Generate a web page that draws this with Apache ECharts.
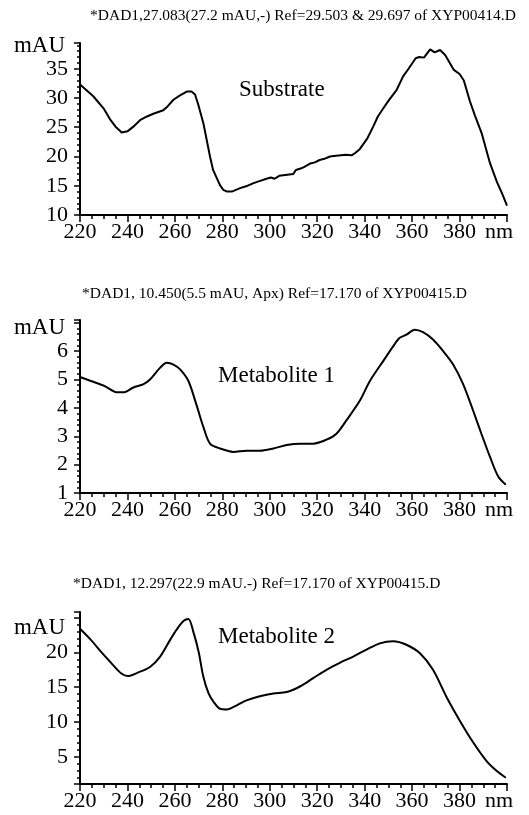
<!DOCTYPE html>
<html>
<head>
<meta charset="utf-8">
<style>
  html, body { margin: 0; padding: 0; background: #fff; }
  #main { width: 529px; height: 815px; }
</style>
<script src="https://cdn.jsdelivr.net/npm/echarts@6/dist/echarts.min.js"></script>
</head>
<body>
<div id="main"></div>
<script>
// spectra (nm / mAU)
var substrateNm = [220, 225.6, 230, 232.6, 235, 237.6, 240, 242.5, 245.3, 248, 250.9, 253, 255.1, 257, 259.4, 262, 265, 267, 268.5, 269.9, 272, 274.8, 276.1, 279, 280.4, 282, 284, 287.5, 290, 292.9, 295, 298.6, 300.5, 302, 304, 305.7, 309.9, 311, 312.7, 314, 317, 319, 321, 323, 325.4, 327, 332, 334.5, 336, 338, 341, 343.6, 345.5, 347.8, 350, 353.5, 356.2, 358.5, 361.5, 363, 365, 367.6, 369.5, 371.8, 374, 377.6, 380, 381.8, 384.4, 386.5, 389.3, 392.8, 395.7, 398, 400];
var substrateAbs = [32.3, 30.3, 28.2, 26.4, 25.1, 24.1, 24.3, 25.1, 26.2, 26.8, 27.3, 27.6, 27.9, 28.6, 29.7, 30.4, 31.1, 31.1, 30.6, 28.8, 25.7, 20.0, 17.7, 15.1, 14.3, 14.0, 14.0, 14.6, 14.9, 15.4, 15.7, 16.2, 16.4, 16.2, 16.7, 16.8, 17.0, 17.7, 17.9, 18.1, 18.8, 19.0, 19.4, 19.6, 20.0, 20.1, 20.3, 20.2, 20.6, 21.3, 23.0, 25.1, 26.8, 28.2, 29.5, 31.4, 33.7, 35.0, 36.8, 37.0, 36.9, 38.3, 37.8, 38.2, 37.3, 34.8, 34.1, 33.0, 29.4, 27.0, 24.0, 18.9, 15.7, 13.6, 11.6];

var metabolite1Nm = [220, 224.6, 230.2, 235.8, 238.3, 242.5, 246.8, 249.5, 253.8, 256.6, 259.4, 262.2, 265.7, 269.2, 272, 274.8, 279, 284.6, 290.2, 295.8, 301.5, 307.1, 312.7, 318.3, 323.9, 328.1, 332.3, 338, 342.2, 347.8, 352, 354.8, 357.6, 361.1, 364.6, 368.8, 373.1, 377.3, 381.5, 385.7, 389.2, 392.8, 396.3, 399.5];
var metabolite1Abs = [5.09, 4.95, 4.78, 4.55, 4.55, 4.72, 4.84, 5.0, 5.42, 5.59, 5.53, 5.36, 4.95, 4.08, 3.33, 2.74, 2.57, 2.45, 2.49, 2.49, 2.57, 2.69, 2.74, 2.74, 2.88, 3.09, 3.56, 4.26, 4.95, 5.65, 6.17, 6.47, 6.58, 6.76, 6.67, 6.41, 6.0, 5.53, 4.84, 3.91, 3.09, 2.28, 1.58, 1.29];

var metabolite2Nm = [220, 224.6, 228.8, 233.1, 237.3, 240.1, 244.4, 249.5, 253.8, 258, 260.8, 263.6, 265.7, 267.9, 270, 272, 274.2, 276.3, 279, 281.9, 286.1, 290.2, 295.8, 301.5, 307.1, 312.7, 318.3, 323.9, 329.5, 335.2, 340.8, 346.4, 352, 357.6, 363.2, 368.8, 374.5, 380.1, 385.7, 391.4, 395.6, 399.5];
var metabolite2Abs = [23.4, 21.8, 20.1, 18.5, 17.0, 16.6, 17.1, 17.9, 19.4, 21.8, 23.3, 24.5, 24.8, 22.8, 20.1, 16.5, 14.1, 12.9, 11.9, 11.8, 12.4, 13.1, 13.7, 14.1, 14.3, 15.1, 16.3, 17.5, 18.5, 19.4, 20.4, 21.3, 21.6, 21.1, 19.9, 17.5, 13.6, 10.2, 7.1, 4.4, 3.0, 2.0];

var headers = [
    '*DAD1,27.083(27.2 mAU,-) Ref=29.503 & 29.697 of XYP00414.D',
    '*DAD1, 10.450(5.5 mAU, Apx) Ref=17.170 of XYP00415.D',
    '*DAD1, 12.297(22.9 mAU.-) Ref=17.170 of XYP00415.D'
];
var sampleNames = ['Substrate', 'Metabolite 1', 'Metabolite 2'];
var yLabels1 = [10, 15, 20, 25, 30, 35];
var yLabels2 = [1, 2, 3, 4, 5, 6];
var yLabels3 = [5, 10, 15, 20];

var FONT = '"Liberation Serif", "Times New Roman", serif';

function pairs(xs, ys) {
    return xs.map(function (x, i) { return [x, ys[i]]; });
}

var grids = [
    { left: 80, top: 43, width: 427, height: 172 },
    { left: 80, top: 320, width: 427, height: 173 },
    { left: 80, top: 612, width: 427, height: 172 }
];

function xAxisFor(i) {
    return {
        type: 'value',
        gridIndex: i,
        min: 220,
        max: 400,
        interval: 20,
        axisLine: { lineStyle: { color: '#000', width: 2 } },
        axisTick: { length: 7, lineStyle: { color: '#000', width: 1.5 } },
        minorTick: { show: true, splitNumber: 4, length: 4, lineStyle: { color: '#000', width: 1.5 } },
        splitLine: { show: false },
        axisLabel: {
            margin: 6,
            color: '#000',
            fontSize: 22,
            fontFamily: FONT,
            formatter: function (v) { return v === 400 ? '{u|nm}' : v; },
            rich: { u: { fontSize: 22, fontFamily: FONT, color: '#000', padding: [0, 16, 0, 0] } }
        }
    };
}

function yAxisFor(i, min, max, interval, labels, nameGap) {
    var ax = {
        type: 'value',
        gridIndex: i,
        min: min,
        max: max,
        name: 'mAU',
        nameLocation: 'end',
        nameGap: nameGap,
        nameTextStyle: { color: '#000', fontSize: 23, fontFamily: FONT, align: 'right', verticalAlign: 'middle', padding: [0, 15, 0, 0] },
        axisLine: { show: true, lineStyle: { color: '#000', width: 2 } },
        axisTick: { show: true, length: 6, lineStyle: { color: '#000', width: 1.5 } },
        minorTick: { show: true, splitNumber: 5, length: 3, lineStyle: { color: '#000', width: 1.5 } },
        splitLine: { show: false },
        axisLabel: {
            margin: 12,
            color: '#000',
            fontSize: 22,
            fontFamily: FONT,
            showMinLabel: true,
            showMaxLabel: false,
            formatter: function (v) { return labels.indexOf(v) >= 0 ? v : ''; }
        }
    };
    if (interval) ax.interval = interval; else ax.splitNumber = 5;
    return ax;
}

function curve(i, xs, ys) {
    return {
        type: 'line',
        xAxisIndex: i,
        yAxisIndex: i,
        data: pairs(xs, ys),
        showSymbol: false,
        smooth: i === 0 ? false : 0.3,
        lineStyle: { color: '#000', width: 2 },
        silent: true
    };
}

var myChart = echarts.init(document.getElementById('main'));

var option = {
    backgroundColor: '#fff',
    animation: false,
    title: [
        { text: headers[0], left: 90, top: 8, padding: 0, textStyle: { fontSize: 15.5, fontWeight: 'normal', fontFamily: FONT, color: '#000' } },
        { text: headers[1], left: 82, top: 286, padding: 0, textStyle: { fontSize: 15.5, fontWeight: 'normal', fontFamily: FONT, color: '#000' } },
        { text: headers[2], left: 73, top: 576, padding: 0, textStyle: { fontSize: 15.5, fontWeight: 'normal', fontFamily: FONT, color: '#000' } },
        { text: sampleNames[0], left: 239, top: 78, padding: 0, textStyle: { fontSize: 23, fontWeight: 'normal', fontFamily: FONT, color: '#000' } },
        { text: sampleNames[1], left: 218, top: 364, padding: 0, textStyle: { fontSize: 23, fontWeight: 'normal', fontFamily: FONT, color: '#000' } },
        { text: sampleNames[2], left: 218, top: 625, padding: 0, textStyle: { fontSize: 23, fontWeight: 'normal', fontFamily: FONT, color: '#000' } }
    ],
    grid: grids,
    xAxis: [xAxisFor(0), xAxisFor(1), xAxisFor(2)],
    yAxis: [
        yAxisFor(0, 10, 39.4, 5, yLabels1, -4),
        yAxisFor(1, 1, 7.1, 1, yLabels2, -8),
        yAxisFor(2, 1.1, 25.8, null, yLabels3, -16)
    ],
    series: [
        curve(0, substrateNm, substrateAbs),
        curve(1, metabolite1Nm, metabolite1Abs),
        curve(2, metabolite2Nm, metabolite2Abs)
    ]
};

myChart.setOption(option, true);
</script>
</body>
</html>
